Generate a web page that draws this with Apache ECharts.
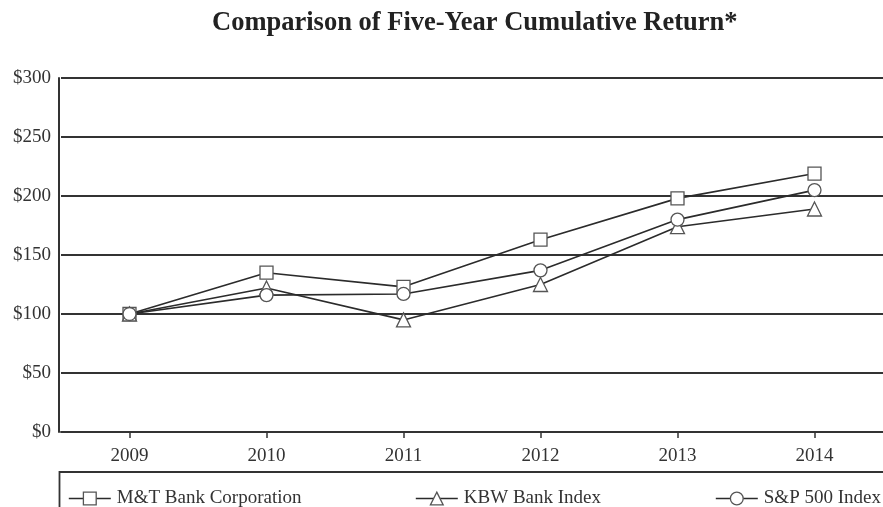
<!DOCTYPE html>
<html>
<head>
<meta charset="utf-8">
<script src="https://cdn.jsdelivr.net/npm/echarts@6/dist/echarts.min.js"></script>
<style>
html,body{margin:0;padding:0;background:#fff;}
#c{width:883px;height:507px;}
</style>
</head>
<body>
<div id="c"></div>
<script>
var categories = ['2009', '2010', '2011', '2012', '2013', '2014'];
var mtBank = [100, 135, 123, 163, 198, 219];
var kbwBank = [100, 122, 95, 125, 174, 189];
var sp500 = [100, 116, 117, 137, 180, 205];
var seriesNames = ['M&T Bank Corporation', 'KBW Bank Index', 'S&P 500 Index'];
var yTicks = { min: 0, max: 300, interval: 50 };

var chart = echarts.init(document.getElementById('c'));
var font = '"Liberation Serif", "Times New Roman", serif';
var lineColor = '#2b2b2b';
var markColor = '#555';
var textColor = '#333';

function mkSeries(name, data, symbol, size) {
  return {
    name: name,
    type: 'line',
    data: data,
    symbol: symbol,
    symbolSize: size,
    showAllSymbol: true,
    lineStyle: { color: lineColor, width: 1.6 },
    itemStyle: { color: '#fff', borderColor: markColor, borderWidth: 1.3 },
    emphasis: { disabled: true },
    z: 3
  };
}

function mkLegend(name, left) {
  return {
    data: [name],
    left: left,
    top: 489,
    itemWidth: 42,
    itemHeight: 16,
    itemGap: 5,
    padding: 0,
    selectedMode: false,
    textStyle: { fontFamily: font, fontSize: 19, color: textColor, padding: [0, 0, 0, 1] },
    itemStyle: { color: '#fff', borderColor: markColor, borderWidth: 1.3 },
    lineStyle: { color: lineColor, width: 1.6 }
  };
}

chart.setOption({
  animation: false,
  backgroundColor: '#fff',
  title: {
    text: 'Comparison of Five-Year Cumulative Return*',
    left: 212,
    top: 10,
    padding: 0,
    textStyle: { fontFamily: font, fontSize: 26.5, fontWeight: 'bold', color: '#222' }
  },
  grid: { left: 61, top: 78, width: 827, height: 354, containLabel: false },
  legend: [
    mkLegend(seriesNames[0], 68),
    mkLegend(seriesNames[1], 415),
    mkLegend(seriesNames[2], 715)
  ],
  graphic: [{
    type: 'rect',
    shape: { x: 59.5, y: 472, width: 900, height: 100 },
    style: { fill: 'none', stroke: '#333', lineWidth: 1.8 },
    silent: true
  }],
  xAxis: {
    type: 'category',
    data: categories,
    boundaryGap: true,
    axisLine: { lineStyle: { color: '#333', width: 2 } },
    axisTick: { show: true, alignWithLabel: true, length: 6, lineStyle: { color: '#333', width: 1.5 } },
    axisLabel: { fontFamily: font, fontSize: 19, color: textColor, margin: 15 },
    splitLine: { show: false }
  },
  yAxis: {
    type: 'value',
    min: yTicks.min,
    max: yTicks.max,
    interval: yTicks.interval,
    offset: 2,
    axisLine: { show: true, lineStyle: { color: '#333', width: 2 } },
    axisTick: { show: false },
    axisLabel: { fontFamily: font, fontSize: 19, color: textColor, margin: 8, formatter: function (v) { return '$' + v; } },
    splitLine: { lineStyle: { color: '#333', width: 2 } }
  },
  series: [
    mkSeries(seriesNames[0], mtBank, 'rect', 13),
    mkSeries(seriesNames[1], kbwBank, 'triangle', 14),
    mkSeries(seriesNames[2], sp500, 'circle', 13)
  ]
});
</script>
</body>
</html>
